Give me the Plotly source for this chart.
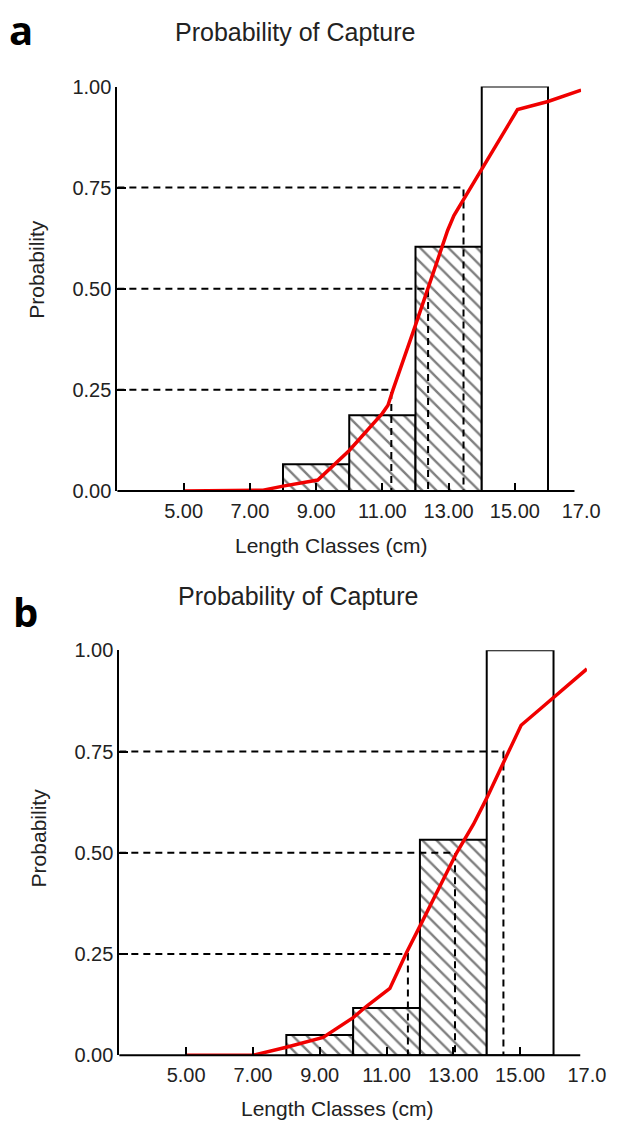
import plotly.graph_objects as go

# ---------------- data ----------------
bar_centers = [9, 11, 13, 15]
bar_width = 2
tick_vals = [5, 7, 9, 11, 13, 15, 17]
tick_text = ["5.00", "7.00", "9.00", "11.00", "13.00", "15.00", "17.0"]
ytick_vals = [0, 0.25, 0.5, 0.75, 1.0]
ytick_text = ["0.00", "0.25", "0.50", "0.75", "1.00"]
prob_levels = [0.25, 0.50, 0.75]

# panel a
a_bar_prob = [0.066, 0.187, 0.604, 1.0]
a_curve_x = [5.0, 7.4, 8.0, 9.05, 10.0, 11.0, 11.17, 11.32, 12.0, 12.5, 12.97, 13.16, 13.45, 13.94, 15.08, 16.0, 17.0]
a_curve_y = [0.0, 0.002, 0.012, 0.027, 0.10, 0.192, 0.212, 0.25, 0.41, 0.53, 0.644, 0.681, 0.72, 0.79, 0.943, 0.963, 0.991]
a_L = [11.27, 12.38, 13.45]

# panel b
b_bar_prob = [0.050, 0.117, 0.532, 1.0]
b_curve_x = [5.0, 7.0, 8.0, 9.1, 10.0, 10.4, 11.1, 11.6, 12.0, 12.6, 13.1, 13.6, 14.0, 14.6, 15.03, 15.6, 16.0, 17.0]
b_curve_y = [0.0, 0.0, 0.02, 0.044, 0.093, 0.121, 0.165, 0.254, 0.319, 0.42, 0.50, 0.57, 0.635, 0.74, 0.815, 0.855, 0.883, 0.954]
b_L = [11.64, 13.05, 14.5]

W, H = 636, 1131
FONT = "Liberation Sans, Arial, sans-serif"
TXT = "#222222"

panels = [
    dict(bars=a_bar_prob, cx=a_curve_x, cy=a_curve_y, L=a_L,
         xdom=[121 / W, 599 / W], ydom=[1 - 489.5 / H, 1 - 77 / H],
         title_xy=(304, 21), letter="a", letter_xy=(22, 19),
         ytitle_xy=(38, 263), xtitle_xy=(342, 545)),
    dict(bars=b_bar_prob, cx=b_curve_x, cy=b_curve_y, L=b_L,
         xdom=[123 / W, 605 / W], ydom=[1 - 1065 / H, 1 - 652 / H],
         title_xy=(307, 597), letter="b", letter_xy=(26, 612),
         ytitle_xy=(40, 843), xtitle_xy=(348, 1119)),
]

fig = go.Figure()
shapes = []
annotations = []
X0, X1 = 3, 17
AXIS_END = 16.8

for i, p in enumerate(panels):
    xa = "x" if i == 0 else "x2"
    ya = "y" if i == 0 else "y2"
    patterns = ["\\", "\\", "\\", ""]
    fig.add_trace(go.Bar(
        x=bar_centers, y=p["bars"], width=bar_width, xaxis=xa, yaxis=ya,
        marker=dict(color="white",
                    line=dict(color="black", width=2),
                    pattern=dict(shape=patterns, fgcolor="black", bgcolor="white",
                                 size=10, solidity=0.24)),
        cliponaxis=False, showlegend=False, hoverinfo="skip"))
    for lvl, L in zip(prob_levels, p["L"]):
        fig.add_trace(go.Scatter(
            x=[X0, L, L], y=[lvl, lvl, 0], mode="lines", xaxis=xa, yaxis=ya,
            line=dict(color="black", width=2, dash="7px,5px"),
            cliponaxis=False, showlegend=False, hoverinfo="skip"))
    fig.add_trace(go.Scatter(
        x=p["cx"], y=p["cy"], mode="lines", xaxis=xa, yaxis=ya,
        line=dict(color="rgb(240,0,0)", width=3.5),
        cliponaxis=False, showlegend=False, hoverinfo="skip"))

    # x axis baseline (ends just before the last tick, as in the original)
    xd = p["xdom"]
    xend = xd[0] + (AXIS_END - X0) / (X1 - X0) * (xd[1] - xd[0])
    shapes.append(dict(type="line", xref="paper", yref="paper",
                       x0=xd[0], x1=xend, y0=p["ydom"][0], y1=p["ydom"][0],
                       line=dict(color="black", width=2)))

    annotations += [
        dict(text="Probability of Capture", x=p["title_xy"][0] / W, y=1 - p["title_xy"][1] / H,
             xref="paper", yref="paper", showarrow=False, xanchor="center", yanchor="middle",
             font=dict(family=FONT, size=25, color=TXT)),
        dict(text="<b>%s</b>" % p["letter"], x=p["letter_xy"][0] / W, y=1 - p["letter_xy"][1] / H,
             xref="paper", yref="paper", showarrow=False, xanchor="center", yanchor="middle",
             font=dict(family="Open Sans, sans-serif", size=40, color="black")),
        dict(text="Probability", x=p["ytitle_xy"][0] / W, y=1 - p["ytitle_xy"][1] / H,
             xref="paper", yref="paper", showarrow=False, xanchor="center", yanchor="middle",
             textangle=-90, font=dict(family=FONT, size=21, color=TXT)),
        dict(text="Length Classes (cm)", x=p["xtitle_xy"][0] / W, y=1 - p["xtitle_xy"][1] / H,
             xref="paper", yref="paper", showarrow=False, xanchor="center", yanchor="middle",
             font=dict(family=FONT, size=21, color=TXT)),
    ]

xaxis_common = dict(range=[X0, X1], showline=False, showgrid=False, zeroline=False,
                    ticks="inside", ticklen=8, tickwidth=2, tickcolor="black",
                    tickmode="array", tickvals=tick_vals, ticktext=tick_text,
                    ticklabelstandoff=6,
                    tickfont=dict(family=FONT, size=20, color=TXT), fixedrange=True)
yaxis_common = dict(range=[0, 1], showline=True, linecolor="black", linewidth=2,
                    showgrid=False, zeroline=False,
                    ticks="inside", ticklen=9, tickwidth=2, tickcolor="black",
                    tickmode="array", tickvals=ytick_vals, ticktext=ytick_text,
                    tickfont=dict(family=FONT, size=20, color=TXT), fixedrange=True)

fig.update_layout(
    width=W, height=H, margin=dict(l=0, r=0, t=0, b=0),
    paper_bgcolor="white", plot_bgcolor="white",
    barmode="overlay",
    xaxis=dict(domain=panels[0]["xdom"], anchor="y", **xaxis_common),
    yaxis=dict(domain=panels[0]["ydom"], anchor="x", **yaxis_common),
    xaxis2=dict(domain=panels[1]["xdom"], anchor="y2", **xaxis_common),
    yaxis2=dict(domain=panels[1]["ydom"], anchor="x2", **yaxis_common),
    shapes=shapes, annotations=annotations,
)

fig.write_html("out.html")
